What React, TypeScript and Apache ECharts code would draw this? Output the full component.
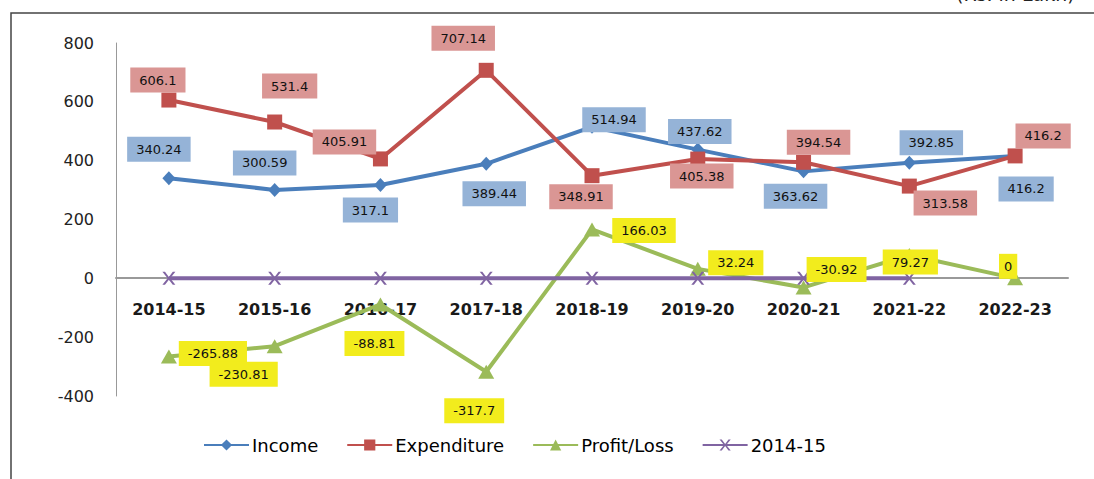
import React, { useEffect, useRef } from "react";
import * as echarts from "echarts";

const categories = ["2014-15", "2015-16", "2016-17", "2017-18", "2018-19", "2019-20", "2020-21", "2021-22", "2022-23"];
const income = [340.24, 300.59, 317.1, 389.44, 514.94, 437.62, 363.62, 392.85, 416.2];
const expenditure = [606.1, 531.4, 405.91, 707.14, 348.91, 405.38, 394.54, 313.58, 416.2];
const profitLoss = [-265.88, -230.81, -88.81, -317.7, 166.03, 32.24, -30.92, 79.27, 0];
const base = [0, 0, 0, 0, 0, 0, 0, 0, null];
const yTicks = { min: -400, max: 800, interval: 200 };

// label placement (offset from the point, px)
const incomeOffsets = [[-10, -29], [-10, -27], [-10, 25], [8, 30], [22, -7], [2, -18], [-8, 25], [22, -20], [11, 33]];
const expOffsets = [[-11, -20], [15, -36], [-36, -17], [-23, -32], [-11, 21], [4, 17], [15, -20], [36, 17], [28, -20]];
const plOffsets = [[44, -3], [-31, 28], [-6, 39], [-12, 39], [52, 1], [38, -6], [33, -18], [1, 7], [-7, -12]];

const xSymbol = "path://M0,0 L2,0 L5,4 L8,0 L10,0 L6,5 L10,10 L8,10 L5,6 L2,10 L0,10 L4,5 Z";

function withLabels(values: (number | null)[], offsets: number[][], bg: string) {
  return values.map((v, i) => ({
    value: v,
    label: {
      show: true,
      position: "inside",
      offset: offsets[i],
      formatter: String(v),
      backgroundColor: bg,
      color: "#111",
      fontFamily: "DejaVu Sans",
      fontSize: 13,
      padding: v === 0 ? [6, 5] : [6, 9],
    },
  }));
}

export default function App() {
  const ref = useRef<HTMLDivElement>(null);
  useEffect(() => {
    if (!ref.current) return;
    const chart = echarts.init(ref.current, null, { renderer: "svg" });
    chart.setOption({
      animation: false,
      backgroundColor: "#ffffff",
      graphic: [
        {
          type: "rect",
          shape: { x: 11, y: 13, width: 1200, height: 600 },
          style: { fill: "none", stroke: "#444", lineWidth: 1.5 },
          silent: true,
        },
        {
          type: "text",
          x: 956,
          y: -16,
          style: { text: "(Rs. in Lakh)", fontSize: 19, fontFamily: "DejaVu Sans", fill: "#222" },
          silent: true,
        },
      ],
      grid: { left: 116, right: 26, top: 43, bottom: 83, containLabel: false },
      legend: {
        left: 198,
        top: 431,
        itemWidth: 45,
        itemHeight: 14,
        itemGap: 28,
        textStyle: { fontFamily: "DejaVu Sans", fontSize: 18, fontWeight: 500, color: "#000", padding: [0, 0, 0, -2] },
        data: ["Income", "Expenditure", "Profit/Loss", "2014-15"],
      },
      xAxis: {
        type: "category",
        data: categories,
        boundaryGap: true,
        position: "bottom",
        offset: -118,
        axisLine: { onZero: false, lineStyle: { color: "#999", width: 2 } },
        axisTick: { show: false },
        axisLabel: { fontFamily: "DejaVu Sans", fontSize: 16, fontWeight: "bold", color: "#1a1a1a", margin: 23, interval: 0 },
        splitLine: { show: false },
      },
      yAxis: {
        type: "value",
        min: yTicks.min,
        max: yTicks.max,
        interval: yTicks.interval,
        axisLine: { show: true, lineStyle: { color: "#999", width: 1 } },
        axisTick: { show: false },
        splitLine: { show: false },
        axisLabel: { fontFamily: "DejaVu Sans", fontSize: 16, color: "#222", margin: 22 },
      },
      series: [
        {
          name: "Income",
          type: "line",
          data: withLabels(income, incomeOffsets, "#95B3D7"),
          symbol: "diamond",
          symbolSize: [13, 14],
          color: "#4A7EBB",
          lineStyle: { width: 4, color: "#4A7EBB" },
          itemStyle: { color: "#4A7EBB" },
        },
        {
          name: "Expenditure",
          type: "line",
          data: withLabels(expenditure, expOffsets, "#DA9694"),
          symbol: "rect",
          symbolSize: 15,
          color: "#C0504D",
          lineStyle: { width: 4, color: "#C0504D" },
          itemStyle: { color: "#C0504D" },
        },
        {
          name: "Profit/Loss",
          type: "line",
          data: withLabels(profitLoss, plOffsets, "#F2EC1D"),
          symbol: "triangle",
          symbolSize: [16, 14],
          color: "#9BBB59",
          lineStyle: { width: 4, color: "#9BBB59" },
          itemStyle: { color: "#9BBB59" },
        },
        {
          name: "2014-15",
          type: "line",
          data: base,
          symbol: xSymbol,
          symbolSize: 13,
          color: "#8064A2",
          lineStyle: { width: 4, color: "#8064A2" },
          itemStyle: { color: "#8064A2" },
          label: { show: false },
        },
      ],
    });
    return () => chart.dispose();
  }, []);
  return <div ref={ref} style={{ position: "fixed", left: 0, top: 0, width: 1094, height: 479 }} />;
}
